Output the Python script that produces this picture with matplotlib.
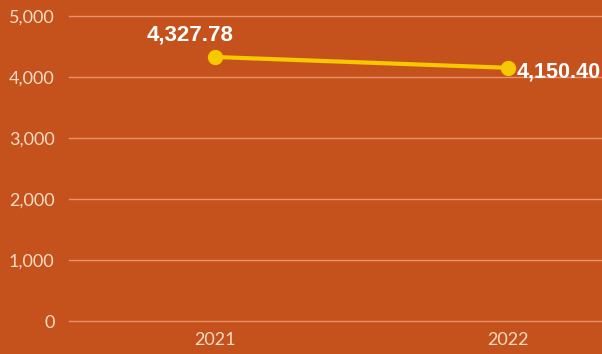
import matplotlib.pyplot as plt
from matplotlib.ticker import FuncFormatter

years = ['2021', '2022']
values = [4327.78, 4150.40]
y_ticks = [0, 1000, 2000, 3000, 4000, 5000]

bg = '#C5521C'
line_color = '#F5C800'
tick_color = '#F6DCC4'

fig = plt.figure(figsize=(6.02, 3.54), dpi=100)
fig.patch.set_facecolor(bg)
# zero line sits 33 px above the bottom edge
ax = fig.add_axes([68.5 / 602, 33 / 354, 1 - 68.5 / 602, 321 / 354])
ax.set_facecolor(bg)

x = list(range(len(years)))
ax.plot(x, values, color=line_color, linewidth=3, marker='o', markersize=10,
        markerfacecolor=line_color, markeredgecolor=line_color, zorder=3)

ax.annotate(f'{values[0]:,.2f}', (x[0], values[0]), xytext=(-18, 16),
            textcoords='offset points', ha='center', va='center',
            color='white', fontsize=16, fontweight='bold',
            family='Liberation Sans')
ax.annotate(f'{values[1]:,.2f}', (x[1], values[1]), xytext=(6, -3),
            textcoords='offset points', ha='left', va='center',
            color='white', fontsize=15.5, fontweight='bold',
            family='Liberation Sans')

ax.set_xlim(-0.5, -0.5 + (602 - 68.5) / 293)
ax.set_ylim(0, 5262)
ax.set_xticks(x)
ax.set_xticklabels(years)
ax.set_yticks(y_ticks)
ax.yaxis.set_major_formatter(FuncFormatter(lambda v, p: f'{int(v):,}'))

ax.grid(axis='y', color='#E9936A', linewidth=1)
for gl in ax.get_ygridlines():
    gl.set_clip_on(False)
ax.set_axisbelow(True)
for s in ax.spines.values():
    s.set_visible(False)
ax.tick_params(axis='both', length=0, colors=tick_color, labelsize=13)
ax.tick_params(axis='y', pad=10)
ax.tick_params(axis='x', pad=8)
for lbl in ax.get_xticklabels() + ax.get_yticklabels():
    lbl.set_family('Lato')

fig.savefig('out.png', dpi=100, facecolor=bg)
